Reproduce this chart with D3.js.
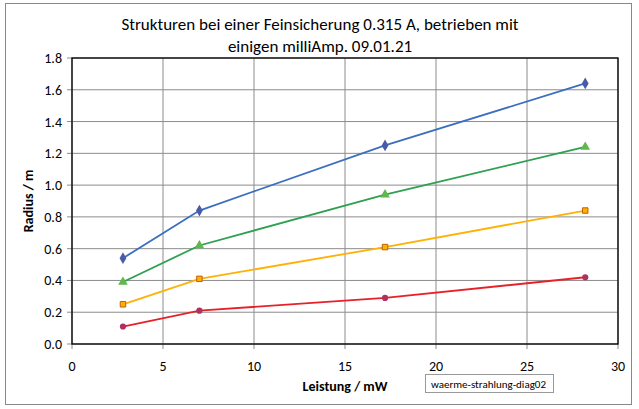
<!DOCTYPE html>
<html><head><meta charset="utf-8">
<script src="https://cdn.jsdelivr.net/npm/d3@7"></script>
<style>body{margin:0;background:#fff}text{font-family:Calibri,Carlito,"Liberation Sans",sans-serif}</style>
</head><body>
<svg id="c" width="639" height="409"></svg>
<script>
// ===== DATEN =====
const leistung = [2.8, 7.0, 17.2, 28.2];
const blau = [0.54, 0.84, 1.25, 1.64];
const gruen = [0.39, 0.62, 0.94, 1.24];
const orange = [0.25, 0.41, 0.61, 0.84];
const rot = [0.11, 0.21, 0.29, 0.42];
const xTicks = [0, 5, 10, 15, 20, 25, 30];
const yTicks = [0, 0.2, 0.4, 0.6, 0.8, 1.0, 1.2, 1.4, 1.6, 1.8];

const svg = d3.select("#c");
svg.append("rect").attr("x", 5.5).attr("y", 3.5).attr("width", 626).attr("height", 401)
  .attr("fill", "#fff").attr("stroke", "#888");

const x = d3.scaleLinear().domain([0, 30]).range([72, 618]);
const y = d3.scaleLinear().domain([0, 1.8]).range([344, 58]);

// Gitter
svg.selectAll(".gy").data(yTicks).enter().append("line")
  .attr("x1", x(0) - 5).attr("x2", x(30)).attr("y1", d => y(d)).attr("y2", d => y(d))
  .attr("stroke", "#8c8c8c");
svg.selectAll(".gx").data(xTicks).enter().append("line")
  .attr("y1", y(1.8)).attr("y2", y(0) + 5).attr("x1", d => x(d)).attr("x2", d => x(d))
  .attr("stroke", "#8c8c8c");
svg.append("rect").attr("x", x(0)).attr("y", y(1.8)).attr("width", x(30) - x(0)).attr("height", y(0) - y(1.8))
  .attr("fill", "none").attr("stroke", "#000").attr("stroke-width", 1.3);

svg.selectAll(".ly").data(yTicks).enter().append("text")
  .attr("x", x(0) - 10).attr("y", d => y(d) + 5).attr("text-anchor", "end")
  .attr("font-size", 14).text(d => d.toFixed(1));
svg.selectAll(".lx").data(xTicks).enter().append("text")
  .attr("x", d => x(d)).attr("y", 371).attr("text-anchor", "middle")
  .attr("font-size", 14).text(d => d);

// Titel
svg.append("text").attr("x", 320).attr("y", 30).attr("text-anchor", "middle").attr("font-size", 17)
  .text("Strukturen bei einer Feinsicherung 0.315 A, betrieben mit");
svg.append("text").attr("x", 320).attr("y", 52).attr("text-anchor", "middle").attr("font-size", 17)
  .text("einigen milliAmp. 09.01.21");
svg.append("text").attr("x", 345).attr("y", 391).attr("text-anchor", "middle").attr("font-size", 14)
  .attr("font-weight", "bold").text("Leistung / mW");
svg.append("text").attr("transform", "translate(33,201) rotate(-90)").attr("text-anchor", "middle")
  .attr("font-size", 14).attr("font-weight", "bold").text("Radius / m");

// Notiz
svg.append("rect").attr("x", 425.5).attr("y", 374.5).attr("width", 128).attr("height", 18)
  .attr("fill", "#fff").attr("stroke", "#999");
svg.append("text").attr("x", 431).attr("y", 388).attr("font-size", 11).text("waerme-strahlung-diag02");

// Reihen
const reihen = [
  { werte: blau, linie: "#3a6fbf", fill: "#4a5aa8", sym: d3.symbolDiamond, size: 40 },
  { werte: gruen, linie: "#2ea04f", fill: "#5fb84c", sym: d3.symbolTriangle, size: 40 },
  { werte: orange, linie: "#ffb000", fill: "#ffb000", stroke: "#c0600a", sym: d3.symbolSquare, size: 30 },
  { werte: rot, linie: "#e8202a", fill: "#b03060", sym: d3.symbolCircle, size: 30 }
];
const line = d3.line().x((d, i) => x(leistung[i])).y(d => y(d));
reihen.forEach(r => {
  svg.append("path").attr("d", line(r.werte)).attr("fill", "none")
    .attr("stroke", r.linie).attr("stroke-width", 1.8);
  svg.selectAll(null).data(r.werte).enter().append("path")
    .attr("transform", (d, i) => `translate(${x(leistung[i])},${y(d)})`)
    .attr("d", d3.symbol().type(r.sym).size(r.size))
    .attr("fill", r.fill).attr("stroke", r.stroke || "none");
});
</script>
</body></html>
